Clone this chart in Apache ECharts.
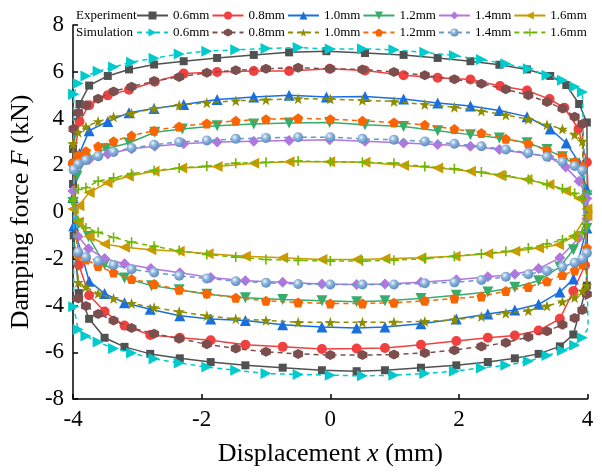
<!DOCTYPE html>
<html><head><meta charset="utf-8">
<script src="https://cdn.jsdelivr.net/npm/echarts@6/dist/echarts.min.js"></script>
<style>html,body{margin:0;padding:0;background:#fff}#c{width:602px;height:472px}</style>
</head><body><div id="c"></div>
<script>
// ---- Data: [displacement (mm), damping force (kN)] ----
const exp06 = [[-4.0,1.2],[-4.0,2.7],[-3.9,4.62],[-3.75,5.41],[-3.46,5.82],[-3.13,6.1],[-2.74,6.31],[-2.28,6.45],[-1.76,6.59],[-1.19,6.72],[-0.64,6.83],[-0.06,6.88],[0.54,6.8],[1.14,6.72],[1.67,6.59],[2.18,6.45],[2.63,6.3],[3.06,6.1],[3.42,5.82],[3.67,5.43],[3.87,4.62],[3.99,3.83],[4.0,0.06],[3.99,-3.15],[3.78,-5.24],[3.57,-5.75],[3.24,-6.07],[2.87,-6.26],[2.45,-6.42],[1.96,-6.56],[1.41,-6.66],[0.85,-6.77],[0.41,-6.81],[-0.13,-6.77],[-0.74,-6.66],[-1.32,-6.56],[-1.86,-6.42],[-2.34,-6.26],[-2.8,-6.07],[-3.2,-5.77],[-3.51,-5.38],[-3.75,-4.57],[-3.91,-3.47],[-3.99,-1.0],[-4.0,1.2]];
const exp08 = [[-4.0,2.08],[-3.9,3.87],[-3.75,4.57],[-3.46,4.99],[-3.13,5.23],[-2.73,5.57],[-2.28,5.92],[-1.76,5.99],[-1.19,6.03],[-0.64,6.03],[-0.01,6.13],[0.54,6.05],[1.14,5.85],[1.67,5.74],[2.18,5.67],[2.64,5.39],[3.06,5.2],[3.41,4.83],[3.64,4.46],[3.86,3.55],[3.99,2.13],[4.01,0.83],[3.96,-2.28],[3.78,-3.38],[3.57,-4.57],[3.24,-5.07],[2.87,-5.28],[2.45,-5.38],[1.96,-5.52],[1.41,-5.68],[0.85,-5.82],[0.41,-5.84],[-0.13,-5.86],[-0.74,-5.77],[-1.32,-5.68],[-1.86,-5.49],[-2.34,-5.38],[-2.8,-5.26],[-3.2,-4.86],[-3.51,-4.26],[-3.75,-3.56],[-3.91,-2.27],[-4.0,2.08]];
const exp10 = [[-4.0,0.62],[-3.9,2.5],[-3.75,3.48],[-3.46,3.87],[-3.13,4.25],[-2.74,4.43],[-2.28,4.6],[-1.76,4.81],[-1.19,4.92],[-0.64,4.99],[-0.06,4.92],[0.54,4.94],[1.14,4.83],[1.67,4.66],[2.18,4.53],[2.63,4.34],[3.06,4.08],[3.42,3.55],[3.67,2.95],[3.87,2.11],[3.99,0.97],[3.99,-0.68],[3.78,-2.87],[3.57,-3.42],[3.24,-3.95],[2.87,-4.19],[2.45,-4.36],[1.96,-4.58],[1.41,-4.78],[0.85,-4.92],[0.41,-4.96],[-0.13,-4.92],[-0.74,-4.82],[-1.32,-4.64],[-1.86,-4.58],[-2.34,-4.44],[-2.8,-4.16],[-3.2,-3.88],[-3.51,-3.49],[-3.75,-2.96],[-3.99,-0.59],[-4.0,0.62]];
const exp12 = [[-4.0,0.41],[-3.94,1.53],[-3.8,2.25],[-3.49,2.71],[-3.13,2.95],[-2.73,3.41],[-2.3,3.55],[-1.76,3.69],[-1.19,3.76],[-0.64,3.81],[-0.01,3.83],[0.54,3.73],[1.14,3.66],[1.67,3.48],[2.18,3.31],[2.63,3.17],[3.06,2.96],[3.37,2.67],[3.61,2.36],[3.8,2.06],[3.91,1.67],[3.99,0.69],[3.99,-0.7],[3.78,-1.61],[3.57,-2.35],[3.24,-2.94],[2.87,-3.22],[2.45,-3.42],[1.96,-3.56],[1.41,-3.7],[0.85,-3.8],[0.41,-3.84],[-0.13,-3.8],[-0.74,-3.74],[-1.32,-3.67],[-1.92,-3.52],[-2.35,-3.33],[-2.78,-3.15],[-3.2,-2.82],[-3.51,-2.24],[-3.76,-1.05],[-3.91,-0.49],[-4.0,0.41]];
const exp14 = [[-4.0,0.9],[-3.9,2.05],[-3.75,2.25],[-3.46,2.48],[-3.09,2.71],[-2.73,2.81],[-2.28,2.92],[-1.76,2.99],[-1.19,3.03],[-0.64,3.06],[-0.01,3.09],[0.54,3.03],[1.14,2.95],[1.67,2.89],[2.18,2.81],[2.63,2.67],[3.06,2.5],[3.4,2.36],[3.66,1.92],[3.87,1.32],[3.99,0.58],[3.99,-0.29],[3.86,-1.12],[3.57,-1.96],[3.24,-2.42],[2.87,-2.66],[2.45,-2.77],[1.96,-2.9],[1.41,-3.01],[0.85,-3.08],[0.41,-3.1],[-0.13,-3.08],[-0.74,-3.01],[-1.32,-2.94],[-1.86,-2.8],[-2.34,-2.6],[-2.79,-2.42],[-3.2,-2.21],[-3.51,-1.99],[-3.76,-1.57],[-3.92,-1.05],[-4.0,0.9]];
const exp16 = [[-4.0,0.13],[-3.91,0.27],[-3.75,0.83],[-3.47,1.25],[-3.14,1.53],[-2.74,1.74],[-2.31,1.88],[-1.76,1.95],[-1.19,2.09],[-0.64,2.15],[-0.01,2.15],[0.54,2.13],[1.14,1.99],[1.67,1.88],[2.18,1.74],[2.63,1.57],[3.06,1.39],[3.4,1.18],[3.66,0.9],[3.87,0.58],[3.99,0.13],[3.99,-0.15],[3.78,-1.05],[3.55,-1.4],[3.24,-1.54],[2.87,-1.68],[2.45,-1.79],[1.94,-1.89],[1.41,-1.96],[0.85,-2.0],[0.41,-2.03],[-0.13,-2.03],[-0.74,-1.96],[-1.32,-1.89],[-1.9,-1.79],[-2.35,-1.68],[-2.79,-1.61],[-3.2,-1.51],[-3.51,-1.37],[-3.75,-1.05],[-3.92,-0.43],[-4.0,0.13]];

const sim06 = [[-3.99,5.04],[-3.92,5.5],[-3.8,5.82],[-3.61,6.02],[-3.37,6.2],[-3.09,6.41],[-2.74,6.58],[-2.35,6.76],[-1.92,6.88],[-1.47,6.94],[-1.0,6.99],[-0.5,7.04],[0.0,6.97],[0.5,6.98],[0.99,6.94],[1.47,6.83],[1.93,6.69],[2.35,6.52],[2.73,6.34],[3.08,6.13],[3.37,5.85],[3.61,5.64],[3.8,5.36],[3.92,5.13],[4.01,-4.96],[3.92,-5.38],[3.8,-5.7],[3.61,-5.93],[3.37,-6.14],[3.08,-6.39],[2.73,-6.56],[2.35,-6.67],[1.93,-6.81],[1.47,-6.91],[0.99,-6.98],[0.5,-7.01],[0.0,-6.98],[-0.5,-6.95],[-1.0,-6.91],[-1.47,-6.77],[-1.92,-6.63],[-2.35,-6.46],[-2.74,-6.28],[-3.09,-6.03],[-3.37,-5.84],[-3.61,-5.56],[-3.8,-5.31],[-3.92,-5.03],[-3.99,-4.05],[-3.99,5.04]];
const sim08 = [[-3.99,3.55],[-3.92,4.25],[-3.8,4.57],[-3.61,4.85],[-3.37,5.16],[-3.09,5.36],[-2.74,5.6],[-2.35,5.78],[-1.92,5.96],[-1.47,6.06],[-1.0,6.13],[-0.5,6.17],[0.0,6.13],[0.5,6.1],[0.99,5.99],[1.47,5.85],[1.93,5.68],[2.35,5.49],[2.73,5.25],[3.08,4.99],[3.37,4.71],[3.61,4.43],[3.8,4.08],[3.92,3.76],[3.99,-3.52],[3.92,-4.19],[3.8,-4.54],[3.61,-4.82],[3.37,-5.1],[3.08,-5.35],[2.73,-5.59],[2.35,-5.75],[1.93,-5.91],[1.47,-6.03],[0.99,-6.1],[0.5,-6.12],[0.0,-6.12],[-0.5,-6.07],[-1.0,-5.98],[-1.47,-5.84],[-1.92,-5.66],[-2.35,-5.42],[-2.74,-5.21],[-3.09,-4.96],[-3.37,-4.64],[-3.61,-4.36],[-3.8,-4.02],[-3.92,-3.7],[-3.99,3.55]];
const sim10 = [[-4.0,2.92],[-3.92,3.41],[-3.8,3.65],[-3.61,3.87],[-3.37,4.07],[-3.09,4.22],[-2.74,4.43],[-2.35,4.57],[-1.92,4.67],[-1.47,4.76],[-1.0,4.8],[-0.5,4.85],[0.0,4.83],[0.5,4.78],[0.99,4.73],[1.47,4.6],[1.93,4.48],[2.35,4.32],[2.73,4.15],[3.08,3.97],[3.37,3.73],[3.61,3.55],[3.8,3.31],[3.92,3.03],[3.99,-3.15],[3.92,-3.38],[3.8,-3.66],[3.61,-3.84],[3.37,-4.02],[3.08,-4.22],[2.73,-4.33],[2.35,-4.47],[1.93,-4.61],[1.47,-4.68],[0.99,-4.71],[0.5,-4.72],[0.0,-4.72],[-0.5,-4.72],[-1.0,-4.64],[-1.47,-4.57],[-1.92,-4.44],[-2.35,-4.26],[-2.74,-4.09],[-3.09,-3.91],[-3.37,-3.7],[-3.61,-3.49],[-3.8,-3.21],[-3.92,-3.01],[-4.0,2.92]];
const sim12 = [[-4.0,2.09],[-3.92,2.43],[-3.8,2.6],[-3.61,2.81],[-3.37,3.03],[-3.09,3.27],[-2.74,3.48],[-2.35,3.66],[-1.92,3.79],[-1.47,3.9],[-1.0,3.97],[-0.5,4.01],[0.0,3.97],[0.5,3.9],[0.99,3.83],[1.47,3.73],[1.93,3.55],[2.35,3.38],[2.73,3.13],[3.08,2.92],[3.37,2.64],[3.61,2.39],[3.8,2.15],[3.92,1.95],[3.99,-1.54],[3.92,-2.24],[3.8,-2.5],[3.61,-2.7],[3.37,-2.96],[3.08,-3.21],[2.73,-3.38],[2.35,-3.61],[1.93,-3.7],[1.47,-3.8],[0.99,-3.88],[0.5,-3.91],[0.0,-3.91],[-0.5,-3.87],[-1.0,-3.8],[-1.47,-3.67],[-1.92,-3.49],[-2.35,-3.33],[-2.74,-3.08],[-3.09,-2.87],[-3.37,-2.59],[-3.61,-2.31],[-3.8,-2.03],[-3.92,-1.82],[-4.0,2.09]];
const sim14 = [[-3.99,1.81],[-3.92,2.05],[-3.8,2.22],[-3.61,2.39],[-3.37,2.57],[-3.09,2.74],[-2.74,2.88],[-2.35,2.99],[-1.92,3.06],[-1.47,3.13],[-1.0,3.17],[-0.5,3.2],[0.0,3.2],[0.5,3.13],[0.99,3.09],[1.47,3.02],[1.93,2.92],[2.35,2.81],[2.73,2.67],[3.08,2.53],[3.37,2.36],[3.61,2.15],[3.8,1.97],[3.92,1.78],[3.99,-1.75],[3.92,-1.99],[3.8,-2.17],[3.61,-2.35],[3.37,-2.52],[3.08,-2.66],[2.73,-2.77],[2.35,-2.91],[1.93,-3.01],[1.47,-3.05],[0.99,-3.1],[0.5,-3.1],[0.0,-3.1],[-0.5,-3.08],[-1.0,-3.03],[-1.47,-2.96],[-1.92,-2.84],[-2.35,-2.73],[-2.74,-2.59],[-3.09,-2.45],[-3.37,-2.27],[-3.61,-2.1],[-3.8,-1.93],[-3.92,-1.71],[-3.99,1.81]];
const sim16 = [[-4.0,0.48],[-3.92,0.97],[-3.8,1.04],[-3.61,1.32],[-3.37,1.46],[-3.09,1.64],[-2.74,1.78],[-2.35,1.88],[-1.92,1.97],[-1.47,2.09],[-1.0,2.13],[-0.5,2.18],[0.0,2.15],[0.5,2.13],[0.99,2.09],[1.47,1.95],[1.93,1.85],[2.35,1.71],[2.73,1.55],[3.08,1.39],[3.37,1.18],[3.61,1.0],[3.8,0.8],[3.92,0.58],[3.99,-0.5],[3.92,-0.85],[3.8,-1.01],[3.61,-1.19],[3.37,-1.37],[3.08,-1.54],[2.73,-1.68],[2.35,-1.79],[1.93,-1.89],[1.47,-2.0],[0.99,-2.06],[0.5,-2.1],[0.0,-2.1],[-0.5,-2.07],[-1.0,-2.03],[-1.47,-1.93],[-1.92,-1.82],[-2.35,-1.65],[-2.74,-1.47],[-3.09,-1.29],[-3.37,-1.09],[-3.61,-0.87],[-3.8,-0.68],[-3.92,-0.36],[-4.0,0.48]];

const gapLabels = ['0.6mm','0.8mm','1.0mm','1.2mm','1.4mm','1.6mm'];
const yTicks = [-8,-6,-4,-2,0,2,4,6,8];
const xTicks = [-4,-2,0,2,4];

// ---- Styling ----
const FONT = '"Liberation Serif", "Times New Roman", serif';
const HEX = 'path://M0,-10 L8.66,-5 L8.66,5 L0,10 L-8.66,5 L-8.66,-5 Z';
const PENT = 'path://M0,-10 L9.51,-3.09 L5.88,8.09 L-5.88,8.09 L-9.51,-3.09 Z';
const STAR = 'path://M0,-10 L2.35,-3.24 L9.51,-3.09 L3.8,1.24 L5.88,8.09 L0,4 L-5.88,8.09 L-3.8,1.24 L-9.51,-3.09 L-2.35,-3.24 Z';
const PLUS = 'path://M-1.6,-10 L1.6,-10 L1.6,-1.6 L10,-1.6 L10,1.6 L1.6,1.6 L1.6,10 L-1.6,10 L-1.6,1.6 L-10,1.6 L-10,-1.6 L-1.6,-1.6 Z';
const sphere = {type:'radial',x:0.38,y:0.35,r:0.65,colorStops:[{offset:0,color:'#f2f7fc'},{offset:0.45,color:'#8db3da'},{offset:1,color:'#5b8ec2'}]};

const expData = [exp06,exp08,exp10,exp12,exp14,exp16];
const simData = [sim06,sim08,sim10,sim12,sim14,sim16];
const expStyle = [
  {c:'#515151', s:'rect', r:0, size:8},
  {c:'#f14040', s:'circle', r:0, size:10},
  {c:'#1a6fdf', s:'triangle', r:0, size:11},
  {c:'#37ad6b', s:'triangle', r:180, size:11},
  {c:'#b177de', s:'diamond', r:0, size:11},
  {c:'#cc9900', s:'triangle', r:90, size:11}
];
const simStyle = [
  {c:'#00cbcc', s:'triangle', r:-90, size:11},
  {c:'#7d4e4e', s:HEX, r:0, size:10},
  {c:'#8e8e00', s:STAR, r:0, size:11},
  {c:'#fb6501', s:PENT, r:0, size:10},
  {c:'#6699cc', s:'circle', r:0, size:10, fill:sphere},
  {c:'#6fb802', s:PLUS, r:0, size:10}
];

const series = [];
const expNames = [], simNames = [];
expData.forEach((d,i)=>{
  const st = expStyle[i]; const nm = 'E ' + gapLabels[i]; expNames.push(nm);
  series.push({name:nm,type:'line',data:d,symbol:st.s,symbolRotate:st.r,symbolSize:st.size,
    lineStyle:{color:st.c,width:1.5,type:'solid'},itemStyle:{color:st.c},z:2,animation:false});
});
simData.forEach((d,i)=>{
  const st = simStyle[i]; const nm = 'S ' + gapLabels[i]; simNames.push(nm);
  series.push({name:nm,type:'line',data:d,symbol:st.s,symbolRotate:st.r,symbolSize:st.size,
    lineStyle:{color:st.c,width:1.5,type:[5,4]},itemStyle:{color:st.fill||st.c},z:3,animation:false});
});

const legendBase = {
  orient:'horizontal', padding:0, itemWidth:31, itemHeight:10, itemGap:2,
  textStyle:{fontFamily:FONT,fontSize:13,color:'#000'},
  formatter: n => n.slice(2), selectedMode:false
};

const chart = echarts.init(document.getElementById('c'));
chart.setOption({
  animation:false,
  backgroundColor:'#fff',
  grid:{left:67.5,right:14.5,top:25,bottom:65},
  legend:[
    Object.assign({},legendBase,{data:expNames,left:136,top:9}),
    Object.assign({},legendBase,{data:simNames,left:136,top:26})
  ],
  graphic:[
    {type:'text',left:76,top:9,style:{text:'Experiment',font:'13px '+FONT,fill:'#000'}},
    {type:'text',left:76,top:26,style:{text:'Simulation',font:'13px '+FONT,fill:'#000'}}
  ],
  xAxis:{type:'value',min:xTicks[0],max:xTicks[xTicks.length-1],interval:2,
    name:'Displacement {i|x} (mm)',nameLocation:'middle',nameGap:42,
    nameTextStyle:{fontFamily:FONT,fontSize:26,color:'#000',rich:{i:{fontFamily:FONT,fontSize:26,fontStyle:'italic',color:'#000'}}},
    axisLine:{onZero:false,lineStyle:{color:'#000',width:1.5}},
    axisTick:{inside:true,length:5,lineStyle:{color:'#000',width:1.5}},
    axisLabel:{fontFamily:FONT,fontSize:23,color:'#000',margin:9},
    splitLine:{show:false}},
  yAxis:{type:'value',min:yTicks[0],max:yTicks[yTicks.length-1],interval:2,
    name:'Damping force {i|F} (kN)',nameLocation:'middle',nameGap:30,
    nameTextStyle:{fontFamily:FONT,fontSize:26,color:'#000',rich:{i:{fontFamily:FONT,fontSize:26,fontStyle:'italic',color:'#000'}}},
    axisLine:{show:true,onZero:false,lineStyle:{color:'#000',width:1.5}},
    axisTick:{show:true,inside:true,length:5,lineStyle:{color:'#000',width:1.5}},
    axisLabel:{fontFamily:FONT,fontSize:23,color:'#000',margin:9},
    splitLine:{show:false}},
  series:series
});
</script></body></html>
